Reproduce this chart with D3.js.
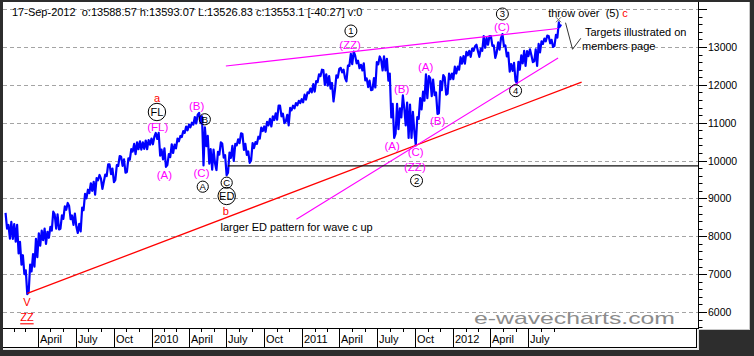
<!DOCTYPE html>
<html><head><meta charset="utf-8">
<script src="https://cdn.jsdelivr.net/npm/d3@7"></script>
<style>
html,body{margin:0;padding:0;background:#2d2d2d;overflow:hidden;}
svg{display:block;}
text{font-family:"Liberation Sans",Arial,Helvetica,sans-serif;}
</style>
</head><body>
<svg id="c" width="754" height="356"></svg>
<script>
// ---------------- DATA ----------------
const headerText = "17-Sep-2012  o:13588.57 h:13593.07 L:13526.83 c:13553.1 [-40.27] v:0";

// weekly [low, high] of the Dow, week ending Fridays from the first date of each year
const firstWeek2009 = "2009-01-16";
const range2009 = [[8200,8620],[7940,8300],[7930,8380],[7860,8320],[7550,8300],[7250,7850],[7000,7500],[6470,7100],[6520,7250],[7070,7530],
[7200,7930],[7450,8080],[7750,8150],[7900,8200],[7800,8120],[7960,8250],[8150,8650],[8200,8580],[8180,8580],[8200,8550],
[8460,8790],[8700,8880],[8450,8800],[8300,8550],[8250,8600],[8087,8330],[8130,8760],[8690,9120],[9000,9230],[9140,9400],
[9200,9440],[9100,9540],[9480,9620],[9250,9530],[9440,9630],[9590,9900],[9640,9900],[9430,9790],[9490,9880],[9860,10120],
[9860,10100],[9680,10030],[9700,10060],[10020,10300],[10240,10440],[10170,10480],[10300,10510],[10290,10480],[10310,10530],[10300,10540]];

const firstWeek2010 = "2010-01-01";
const range2010 = [[10420,10580],[10430,10630],[10570,10730],[10130,10730],[10030,10290],[9835,10320],[9880,10170],[10090,10430],[10200,10420],[10320,10580],
[10510,10650],[10620,10780],[10730,10900],[10800,10950],[10880,11000],[10950,11150],[10980,11210],[10990,11260],[9870,11170],[10380,10880],
[9920,10650],[9760,10300],[9920,10290],[9750,10230],[10160,10480],[10080,10450],[9614,10140],[9680,10210],[10070,10390],[9990,10440],
[10400,10560],[10460,10720],[10280,10700],[10150,10440],[9940,10240],[10010,10460],[10330,10490],[10440,10630],[10580,10870],[10780,10900],
[10760,11020],[10930,11100],[10900,11170],[11070,11250],[11080,11450],[11170,11450],[10990,11240],[11030,11210],[10930,11390],[11330,11450],
[11380,11520],[11460,11580],[11520,11620]];

const firstWeek2011 = "2011-01-07";
const range2011 = [[11540,11740],[11610,11800],[11780,11900],[11800,12020],[11820,12100],[12070,12280],[12230,12400],[12000,12390],[11980,12280],[11900,12230],
[11560,12050],[11850,12250],[12190,12420],[12330,12450],[12180,12400],[12090,12510],[12500,12820],[12550,12880],[12570,12780],[12440,12640],
[12380,12530],[12120,12570],[11940,12170],[11860,12110],[11870,12180],[11930,12600],[12540,12750],[12380,12660],[12380,12750],[12110,12690],
[11140,12300],[10600,11500],[10710,11500],[10830,11380],[11140,11720],[10930,11400],[10600,11530],[10600,11480],[10750,11290],[10400,11150],
[11100,11650],[11350,11820],[11580,12280],[11650,12230],[11700,12170],[11730,12140],[11230,11800],[11250,12100],[11860,12260],[11740,12200],
[11770,12300],[12150,12300]];

const firstWeek2012 = "2012-01-06";
const range2012 = [[12150,12480],[12300,12480],[12400,12730],[12560,12760],[12560,12870],[12780,12900],[12740,12960],[12900,13020],[12890,13060],[12740,12960],
[12900,13290],[12980,13240],[13060,13290],[13030,13290],[12710,13040],[12850,13120],[12930,13240],[13020,13340],[12750,13040],[12350,12850],
[12370,12550],[12110,12580],[12040,12610],[12400,12780],[12570,12900],[12500,12890],[12760,12940],[12600,12790],[12620,12940],[12500,13080],
[12860,13150],[13080,13220],[13150,13300],[13100,13290],[13000,13190],[13030,13320],[13250,13650]];

const lastDay = {date:"2012-09-17", low:13526.83, high:13593.07};

const yGridValues = [6000,7000,8000,9000,10000,11000,12000,13000,14000];
const yTickLabels = [6000,7000,8000,9000,10000,11000,12000,13000];
const quarterLabels = ["April","July","Oct","2010","April","July","Oct","2011","April","July","Oct","2012","April","July"];

// trend lines (date, value)
const redTrend = [["2009-03-06",6490],["2012-11-08",12075]];
const magentaUpper = [["2010-06-30",12498],["2012-09-12",13489]];
const magentaLower = [["2010-12-18",8449],["2012-09-12",12709]];
const supportLevel = 9860, supportFrom = "2010-07-05";
const projection = [["2012-09-30",13642],["2012-10-17",12939],["2012-11-06",13230]];
const throwOverMark = ["2012-09-13",13720];

// wave labels (text, date, value)
const magentaLabels = [
 ["(ZZ)","2011-04-27",13053],["(FL)","2010-01-16",10887],["(B)","2010-04-20",11442],
 ["(A)","2010-02-01",9620],["(C)","2010-05-02",9680],["(A)","2011-08-07",10385],
 ["(B)","2011-08-30",11883],["(A)","2011-10-27",12464],["(B)","2011-11-25",11038],
 ["(C)","2011-10-03",10219],["(ZZ)","2011-10-01",9839],["(C)","2012-04-29",13536]];
const circledLabels = [
 ["1","2011-04-29",13423],["FL","2010-01-14",11283],["B","2010-05-10",11091],
 ["A","2010-05-05",9310],["C","2010-07-02",9416],["ED","2010-07-02",9065],
 ["2","2011-10-05",9469],["3","2012-04-30",13872],["4","2012-06-01",11846]];
const redLabels = [["a","2010-01-14",11653],["b","2010-06-30",8669],["V","2009-03-05",6273]];
const redUnderlined = [["ZZ","2009-03-05",5861]];
const noteLabels = [
 ["larger ED pattern for wave c up","2010-06-17",8254],
 ["Targets illustrated on","2012-11-16",13388],
 ["members page","2012-11-09",13026]];
const throwOverLabel = ["throw over  (5) ","c","2012-08-19",13906];
const watermark = "e-wavecharts.com";

// ---------------- CHART ----------------
const W = 754, H = 356;
const plotL = 3, plotR = 698, plotT = 2, plotB = 328;
const parse = d3.utcParse("%Y-%m-%d");
const x = d3.scaleUtc().domain([parse("2009-01-06"), parse("2013-08-17")]).range([plotL, plotR]);
const y = d3.scaleLinear().domain([6000, 13000]).range([312, 47]);

const svg = d3.select("#c");
svg.append("rect").attr("width",W).attr("height",H).attr("fill","#2d2d2d");
svg.append("rect").attr("x",plotL).attr("y",plotT).attr("width",749-plotL).attr("height",plotB-plotT+1).attr("fill","#fff");
svg.append("line").attr("x1",749.5).attr("x2",749.5).attr("y1",plotT).attr("y2",plotB+1).attr("stroke","#c8c8c8");
svg.append("line").attr("x1",plotR).attr("x2",750).attr("y1",plotB+1.5).attr("y2",plotB+1.5).attr("stroke","#c8c8c8");
svg.append("rect").attr("x",plotL).attr("y",plotB).attr("width",plotR-plotL).attr("height",21).attr("fill","#fff");
svg.append("line").attr("x1",plotL).attr("x2",697).attr("y1",347.5).attr("y2",347.5).attr("stroke","#000");
svg.append("line").attr("x1",696.5).attr("x2",696.5).attr("y1",plotB).attr("y2",348).attr("stroke","#000");
svg.append("line").attr("x1",plotL).attr("x2",699).attr("y1",349.2).attr("y2",349.2).attr("stroke","#e8e8e8").attr("stroke-width",1.5);
svg.append("line").attr("x1",698.2).attr("x2",698.2).attr("y1",plotB).attr("y2",350).attr("stroke","#e8e8e8").attr("stroke-width",1.5);

svg.append("clipPath").attr("id","plotclip").append("rect")
  .attr("x",plotL).attr("y",plotT).attr("width",plotR-plotL).attr("height",plotB-plotT);
const plot = svg.append("g").attr("clip-path","url(#plotclip)");

plot.selectAll(".grid").data(yGridValues).join("line")
  .attr("x1",plotL).attr("x2",plotR)
  .attr("y1",d=>Math.round(y(d))+0.5).attr("y2",d=>Math.round(y(d))+0.5)
  .attr("stroke","#a4a4a4").attr("stroke-dasharray","4,3");

svg.append("text").attr("x",12).attr("y",16).attr("font-size",11).attr("fill","#000")
  .style("white-space","pre").text(headerText);

// build weekly records
const bars = [];
[[firstWeek2009,range2009],[firstWeek2010,range2010],[firstWeek2011,range2011],[firstWeek2012,range2012]].forEach(([first, rs])=>{
  const f = parse(first);
  rs.forEach((r,i)=>{
    const fri = d3.utcDay.offset(f, 7*i);
    bars.push({c: d3.utcHour.offset(fri, -48), low:r[0], high:r[1]});
  });
});
bars.push({c: d3.utcHour.offset(parse(lastDay.date), 12), low:lastDay.low, high:lastDay.high});

// price path: each week traced low->high or high->low following the move into the next week
const pts = [];
bars.forEach((b,i)=>{
  const nxt = bars[i+1] || b, prv = bars[i-1] || b;
  const rising = (nxt.low + nxt.high) >= (prv.low + prv.high);
  const cx = x(b.c);
  const order = rising ? [b.low, b.high] : [b.high, b.low];
  pts.push([cx-0.75, y(order[0])]);
  pts.push([cx+0.75, y(order[1])]);
});
plot.append("path").attr("d", d3.line()(pts)).attr("fill","none")
  .attr("stroke","#0000ff").attr("stroke-width",2.2).attr("stroke-linejoin","round");

const lineGen = d3.line().x(d=>x(parse(d[0]))).y(d=>y(d[1]));
plot.append("path").attr("d",lineGen(redTrend)).attr("stroke","#ff0000").attr("stroke-width",1.3).attr("fill","none");
plot.append("path").attr("d",lineGen(magentaUpper)).attr("stroke","#ff00ff").attr("stroke-width",1.1).attr("fill","none");
plot.append("path").attr("d",lineGen(magentaLower)).attr("stroke","#ff00ff").attr("stroke-width",1.1).attr("fill","none");
plot.append("line").attr("x1",x(parse(supportFrom))).attr("x2",plotR)
  .attr("y1",y(supportLevel)).attr("y2",y(supportLevel)).attr("stroke","#111").attr("stroke-width",1.2);
plot.append("path").attr("d",lineGen(projection)).attr("stroke","#333").attr("stroke-width",1).attr("fill","none");
{
  const mx = x(parse(throwOverMark[0])), my = y(throwOverMark[1]);
  plot.append("path").attr("d",`M${mx-2.5},${my-2.5}L${mx+2.5},${my+2.5}M${mx+2.5},${my-2.5}L${mx-2.5},${my+2.5}`)
    .attr("stroke","#666").attr("stroke-width",1).attr("fill","none");
}

const ann = svg.append("g");
ann.selectAll(".mg").data(magentaLabels).join("text")
  .attr("x",d=>x(parse(d[1]))).attr("y",d=>y(d[2])).attr("text-anchor","middle").attr("dominant-baseline","central")
  .attr("font-size",11.5).attr("fill","#ff00ff").text(d=>d[0]);
const cg = ann.selectAll(".cg").data(circledLabels).join("g")
  .attr("transform",d=>`translate(${x(parse(d[1]))},${y(d[2])})`);
cg.append("circle").attr("r",d=>d[0].length>1?8.7:(/\d/.test(d[0])?6:5.6))
  .attr("fill","none").attr("stroke","#000").attr("stroke-width",1);
cg.append("text").attr("text-anchor","middle").attr("dominant-baseline","central")
  .attr("font-size",d=>d[0].length>1?11:9.5).attr("fill","#000").text(d=>d[0]);
ann.selectAll(".rd").data(redLabels).join("text")
  .attr("x",d=>x(parse(d[1]))).attr("y",d=>y(d[2])).attr("text-anchor","middle").attr("dominant-baseline","central")
  .attr("font-size",11).attr("fill","#ff0000").text(d=>d[0]);
ann.selectAll(".ru").data(redUnderlined).join("text")
  .attr("x",d=>x(parse(d[1]))).attr("y",d=>y(d[2])).attr("text-anchor","middle").attr("dominant-baseline","central")
  .attr("font-size",11).attr("fill","#ff0000").attr("text-decoration","underline").text(d=>d[0]);
ann.selectAll(".nt").data(noteLabels).join("text")
  .attr("x",d=>x(parse(d[1]))).attr("y",d=>y(d[2])).attr("dominant-baseline","central")
  .attr("font-size",11).attr("fill","#000").text(d=>d[0]);
{
  const t = ann.append("text").attr("x",x(parse(throwOverLabel[2]))).attr("y",y(throwOverLabel[3]))
    .attr("dominant-baseline","central").attr("font-size",11).style("white-space","pre");
  t.append("tspan").attr("fill","#000").text(throwOverLabel[0]);
  t.append("tspan").attr("fill","#ff0000").text(throwOverLabel[1]);
}
svg.append("text").attr("x",plotR-224).attr("y",324).attr("font-size",17).attr("fill","#8c8c8c")
  .attr("textLength",201).attr("lengthAdjust","spacingAndGlyphs").text(watermark);

svg.append("line").attr("x1",plotL).attr("x2",plotR).attr("y1",plotB+0.5).attr("y2",plotB+0.5).attr("stroke","#000");
svg.append("line").attr("x1",plotR+0.5).attr("x2",plotR+0.5).attr("y1",plotT).attr("y2",plotB+1).attr("stroke","#000");

const yTicks = d3.range(5600, 14001, 200);
svg.selectAll(".yt").data(yTicks).join("line")
  .attr("x1",plotR).attr("x2",d=>plotR + (d%1000===0?9:4.5))
  .attr("y1",d=>Math.round(y(d))+0.5).attr("y2",d=>Math.round(y(d))+0.5).attr("stroke","#000");
svg.selectAll(".yl").data(yTickLabels).join("text")
  .attr("x",plotR+10).attr("y",d=>Math.round(y(d))).attr("dominant-baseline","central")
  .attr("font-size",10.5).attr("fill","#000").text(d=>d);

const endDate = d3.utcDay.offset(parse(lastDay.date), 1);
const months = d3.utcMonth.range(d3.utcMonth.ceil(x.domain()[0]), endDate);
const quarters = months.filter(m=>m.getUTCMonth()%3===0 && m>=parse("2009-04-01"));
const minorMonths = months.filter(m=>m.getUTCMonth()%3!==0);
svg.selectAll(".mt").data(minorMonths).join("line")
  .attr("x1",d=>Math.round(x(d))+0.5).attr("x2",d=>Math.round(x(d))+0.5)
  .attr("y1",plotB).attr("y2",plotB+4).attr("stroke","#000");
svg.selectAll(".qt").data(quarters).join("line")
  .attr("x1",d=>Math.round(x(d))+0.5).attr("x2",d=>Math.round(x(d))+0.5)
  .attr("y1",plotB).attr("y2",347.5).attr("stroke","#000");
svg.selectAll(".ql").data(quarters).join("text")
  .attr("x",d=>Math.round(x(d))+2).attr("y",343)
  .attr("font-size",11).attr("fill","#000").text((d,i)=>quarterLabels[i]);
</script>
</body></html>
